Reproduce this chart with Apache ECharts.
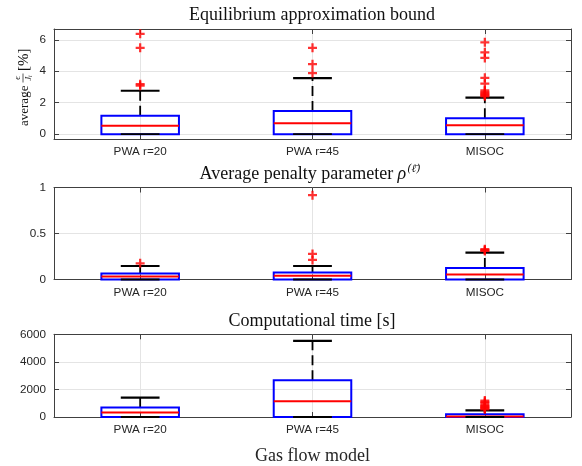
<!DOCTYPE html>
<html><head><meta charset="utf-8">
<script src="https://cdn.jsdelivr.net/npm/echarts@6/dist/echarts.min.js"></script>
<style>html,body{margin:0;padding:0;background:#fff}#c{width:582px;height:466px}</style>
</head><body><div id="c"></div>
<script>
const categories = ['PWA r=20', 'PWA r=45', 'MISOC'];
// each row: [lower whisker, q1, median, q3, upper whisker]
const boundStats = [[0, 0, 0.53, 1.17, 2.76], [0, 0, 0.70, 1.47, 3.57], [0, 0, 0.56, 1.01, 2.32]];
const boundOutliers = [[3.08, 3.18, 5.49, 6.38], [3.89, 4.45, 5.49], [2.41, 2.47, 2.53, 2.6, 2.68, 2.78, 3.21, 3.58, 4.85, 5.21, 5.84]];
const penaltyStats = [[0, 0, 0.032, 0.065, 0.147], [0, 0, 0.042, 0.076, 0.147], [0, 0, 0.054, 0.126, 0.292]];
const penaltyOutliers = [[0.176], [0.212, 0.278, 0.916], [0.31, 0.32, 0.33]];
const timeStats = [[0, 0, 325, 693, 1408], [0, 0, 1148, 2664, 5523], [0, 0, 43, 195, 476]];
const timeOutliers = [[], [], [560, 620, 680, 740, 800, 880, 1000, 1100, 1190]];
const boundTicks = [0, 2, 4, 6];
const penaltyTicks = [0, 0.5, 1];
const timeTicks = [0, 2000, 4000, 6000];
const catPositions = [1, 2, 3];

const chart = echarts.init(document.getElementById('c'));
const AX = '#404040', GRID = '#e4e4e4';
const TICKFONT = 'Liberation Sans';
const SERIF = 'Liberation Serif';

const panels = [
  {top: 29, height: 110, min: -0.31, max: 6.69, ticks: boundTicks, stats: boundStats, out: boundOutliers},
  {top: 187.5, height: 92, min: 0, max: 1, ticks: penaltyTicks, stats: penaltyStats, out: penaltyOutliers},
  {top: 334.3, height: 92.5, min: 0, max: 6000, ticks: timeTicks, stats: timeStats, out: timeOutliers}
];

const grid = [], xAxis = [], yAxis = [], series = [];
panels.forEach((p, i) => {
  grid.push({left: 54, right: 11, top: p.top, height: p.height});
  const base = {
    gridIndex: i, type: 'value', min: 0.5, max: 3.5,
    axisLine: {show: true, onZero: false, lineStyle: {color: AX, width: 1}},
    axisTick: {show: true, inside: true, length: 5, customValues: catPositions, lineStyle: {color: AX}}
  };
  xAxis.push(Object.assign({}, base, {
    position: 'bottom',
    axisLabel: {customValues: catPositions, formatter: v => categories[Math.round(v) - 1] || '',
      color: '#262626', fontFamily: TICKFONT, fontSize: 11.7, margin: 7},
    splitLine: {show: true, lineStyle: {color: GRID, width: 1}},
    name: i === 2 ? 'Gas flow model' : '', nameLocation: 'middle', nameGap: 30,
    nameTextStyle: {fontFamily: SERIF, fontSize: 18, color: '#262626'}
  }));
  xAxis.push(Object.assign({}, base, {
    position: 'top', axisLabel: {show: false}, splitLine: {show: false}
  }));
  const ybase = {
    gridIndex: i, type: 'value', min: p.min, max: p.max,
    axisLine: {show: true, onZero: false, lineStyle: {color: AX, width: 1}},
    axisTick: {show: true, inside: true, length: 5, customValues: p.ticks, lineStyle: {color: AX}}
  };
  yAxis.push(Object.assign({}, ybase, {
    position: 'left',
    axisLabel: {customValues: p.ticks, formatter: v => String(v), color: '#262626', fontFamily: TICKFONT, fontSize: 11.7, margin: 8},
    splitLine: {show: true, lineStyle: {color: GRID, width: 1}}
  }));
  yAxis.push(Object.assign({}, ybase, {
    position: 'right', axisLabel: {show: false}, splitLine: {show: false}
  }));

  series.push({
    type: 'custom', xAxisIndex: 2 * i, yAxisIndex: 2 * i,
    data: p.stats.map((s, k) => [catPositions[k]].concat(s)),
    encode: {x: 0, y: [1, 2, 3, 4, 5]},
    renderItem: function (params, api) {
      const x = api.value(0);
      const mn = api.coord([x, api.value(1)]), q1 = api.coord([x, api.value(2)]),
        md = api.coord([x, api.value(3)]), q3 = api.coord([x, api.value(4)]), mx = api.coord([x, api.value(5)]);
      const w = api.size([0.45, 0])[0];
      const cx = q1[0], hw = w / 2, cw = w / 4;
      return {type: 'group', children: [
        {type: 'line', shape: {x1: cx, y1: q3[1], x2: cx, y2: mx[1]}, style: {stroke: '#000', lineWidth: 1.8, lineDash: [10, 5]}},
        {type: 'line', shape: {x1: cx, y1: q1[1], x2: cx, y2: mn[1]}, style: {stroke: '#000', lineWidth: 1.8, lineDash: [10, 5]}},
        {type: 'line', shape: {x1: cx - cw, y1: mx[1], x2: cx + cw, y2: mx[1]}, style: {stroke: '#000', lineWidth: 2.2}},
        {type: 'rect', shape: {x: cx - hw, y: q3[1], width: w, height: q1[1] - q3[1]}, style: {fill: 'none', stroke: '#0000ff', lineWidth: 2}},
        {type: 'line', shape: {x1: cx - hw, y1: md[1], x2: cx + hw, y2: md[1]}, style: {stroke: '#ff0000', lineWidth: 2}},
        {type: 'line', shape: {x1: cx - cw, y1: mn[1], x2: cx + cw, y2: mn[1]}, style: {stroke: '#000', lineWidth: 1.8}}
      ]};
    }
  });
  const pts = [];
  p.out.forEach((arr, k) => arr.forEach(v => pts.push([catPositions[k], v])));
  series.push({
    type: 'scatter', xAxisIndex: 2 * i, yAxisIndex: 2 * i, data: pts,
    symbol: 'path://M3,0H5V3H8V5H5V8H3V5H0V3H3Z', symbolSize: 9,
    itemStyle: {color: '#ff0000'}, z: 5, silent: true
  });
});

const titleStyle = {font: '18px "Liberation Serif"', fill: '#111', textAlign: 'center', textVerticalAlign: 'middle'};
const graphic = [
  {type: 'text', x: 312, y: 15, style: Object.assign({text: 'Equilibrium approximation bound'}, titleStyle)},
  {type: 'text', x: 310, y: 174, style: Object.assign({
    text: 'Average penalty parameter {r|ρ}{s|(ℓ̄)}',
    rich: {
      r: {fontSize: 18, fontFamily: SERIF, fontStyle: 'italic'},
      s: {fontSize: 11, fontFamily: 'DejaVu Serif', fontStyle: 'italic', padding: [0, 0, 9, 1]}
    }
  }, titleStyle)},
  {type: 'text', x: 312, y: 321, style: Object.assign({text: 'Computational time [s]'}, titleStyle)},
  {type: 'group', x: 25, y: 86, rotation: Math.PI / 2, children: [
    {type: 'text', x: -40, y: 0, style: {text: 'average', font: '13px "Liberation Serif"', fill: '#111', textAlign: 'left', textVerticalAlign: 'middle'}},
    {type: 'text', x: 8, y: -2.5, style: {text: 'ϵ', font: 'italic 9px "Liberation Serif"', fill: '#111', textAlign: 'center', textVerticalAlign: 'bottom'}},
    {type: 'line', shape: {x1: 3.5, y1: -2, x2: 12.5, y2: -2}, style: {stroke: '#111', lineWidth: 0.7}},
    {type: 'text', x: 8, y: -1, style: {text: 'Jᵢ', font: 'italic 9px "Liberation Serif"', fill: '#111', textAlign: 'center', textVerticalAlign: 'top'}},
    {type: 'text', x: 15, y: -1, style: {text: '[%]', font: '15px "Liberation Serif"', fill: '#111', textAlign: 'left', textVerticalAlign: 'middle'}}
  ]}
];

chart.setOption({animation: false, grid, xAxis, yAxis, series, graphic});
</script></body></html>
